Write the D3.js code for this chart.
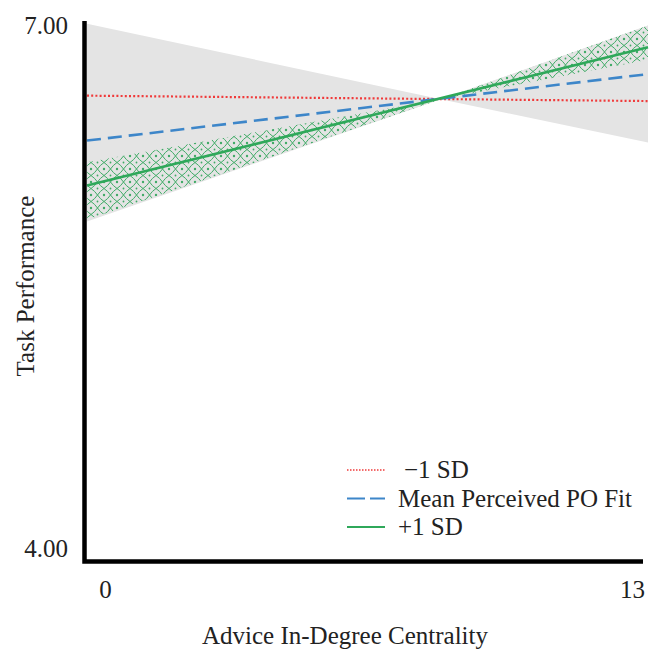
<!DOCTYPE html>
<html>
<head>
<meta charset="utf-8">
<script src="https://cdn.jsdelivr.net/npm/d3@7"></script>
<style>
  body { margin: 0; background: #fff; }
</style>
</head>
<body>
<svg id="chart" width="657" height="652"></svg>
<script>
// x positions where the bands are defined (the crossing point sits at about 8.2)
const bandX = [0, 8.2, 13];
const greyUpper = [6.99, 6.57, 6.98];
const greyLower = [5.89, 6.57, 6.33];
const hatchUpper = [6.22, 6.57, 6.98];
const hatchLower = [5.90, 6.57, 6.79];

// simple slopes, values at x = 0 and x = 13
const lineX = [0, 13];
const lowSD = [6.59, 6.56];
const meanFit = [6.34, 6.71];
const highSD = [6.09, 6.86];

const seriesNames = ["\u22121 SD", "Mean Perceived PO Fit", "+1 SD"];
const xTicks = [0, 13];
const yTicks = [4, 7];

const FONT = "Liberation Serif";
const FS = 25;

const svg = d3.select("#chart");
const x = d3.scaleLinear().domain([0, 13]).range([87, 648]);
const y = d3.scaleLinear().domain([4, 7]).range([561, 22]);

// lattice pattern for the +1 SD band
const T = 13, h = T / 2;
const defs = svg.append("defs");
const pat = defs.append("pattern")
    .attr("id", "lattice")
    .attr("patternUnits", "userSpaceOnUse")
    .attr("width", T).attr("height", T);
pat.append("rect").attr("width", T).attr("height", T).attr("fill", "#e4e4e4");
pat.append("path")
    .attr("d", `M0,${h} Q${h * 0.6},${h * 0.6} ${h},0 Q${h * 1.4},${h * 0.6} ${T},${h} Q${h * 1.4},${h * 1.4} ${h},${T} Q${h * 0.6},${h * 1.4} 0,${h}`)
    .attr("fill", "none").attr("stroke", "#3fab66").attr("stroke-width", 1);
pat.append("circle").attr("cx", h).attr("cy", h).attr("r", 0.9).attr("fill", "#3fab66");
pat.selectAll(".dot").data([[0, 0], [T, 0], [0, T], [T, T]]).enter()
    .append("circle").attr("cx", d => d[0]).attr("cy", d => d[1]).attr("r", 1.2).attr("fill", "#3fab66");

const band = (up, lo) => d3.area()
    .x((d, i) => x(bandX[i]))
    .y0((d, i) => y(lo[i]))
    .y1((d, i) => y(up[i]))(bandX);

svg.append("path").attr("d", band(greyUpper, greyLower)).attr("fill", "#e4e4e4");
svg.append("path").attr("d", band(hatchUpper, hatchLower)).attr("fill", "url(#lattice)");

const line = (vals) => d3.line()
    .x((d, i) => x(lineX[i]))
    .y((d, i) => y(vals[i]))(lineX);

const styles = [
    { color: "#f03a3a", width: 2.2, dash: "2,2.2" },
    { color: "#3d86c9", width: 2.6, dash: "14,7" },
    { color: "#2fa85a", width: 2.6, dash: null }
];
[lowSD, meanFit, highSD].forEach((vals, i) => {
    svg.append("path")
        .attr("d", line(vals))
        .attr("fill", "none")
        .attr("stroke", styles[i].color)
        .attr("stroke-width", styles[i].width)
        .attr("stroke-dasharray", styles[i].dash);
});

// axes: thick black lines, no tick marks
const xAxis = svg.append("g")
    .attr("transform", "translate(0,561)")
    .call(d3.axisBottom(x).tickValues(xTicks).tickSize(0).tickPadding(19));
xAxis.select(".domain").remove();
xAxis.selectAll("text")
    .attr("font-family", FONT).attr("font-size", FS).attr("fill", "#222")
    .attr("dx", d => d === 0 ? 18 : -16);

const yAxis = svg.append("g")
    .attr("transform", "translate(84,0)")
    .call(d3.axisLeft(y).tickValues(yTicks).tickSize(0).tickPadding(16).tickFormat(d3.format(".2f")));
yAxis.select(".domain").remove();
yAxis.selectAll("text")
    .attr("font-family", FONT).attr("font-size", FS).attr("fill", "#222")
    .attr("dy", d => d === 4 ? "-0.18em" : "0.44em");

svg.append("path")
    .attr("d", "M84.5,21 V561.5 H643")
    .attr("fill", "none").attr("stroke", "#000").attr("stroke-width", 4.5);

// axis titles
svg.append("text")
    .attr("x", 345).attr("y", 644)
    .attr("text-anchor", "middle")
    .attr("font-family", FONT).attr("font-size", FS).attr("fill", "#222")
    .text("Advice In-Degree Centrality");

svg.append("text")
    .attr("transform", "translate(34,286) rotate(-90)")
    .attr("text-anchor", "middle")
    .attr("font-family", FONT).attr("font-size", FS).attr("fill", "#222")
    .text("Task Performance");

// legend
const legend = svg.append("g").attr("transform", "translate(347,470)");
seriesNames.forEach((name, i) => {
    const row = legend.append("g").attr("transform", `translate(0,${i * 28.5})`);
    row.append("line")
        .attr("x1", 0).attr("x2", 38)
        .attr("stroke", styles[i].color)
        .attr("stroke-width", i === 0 ? 1.6 : 2)
        .attr("stroke-dasharray", i === 0 ? "1.5,1.5" : (i === 1 ? "18,5" : null));
    row.append("text")
        .attr("x", i === 0 ? 57 : 51).attr("y", 0)
        .attr("dy", "0.33em")
        .attr("font-family", FONT).attr("font-size", FS).attr("fill", "#222")
        .text(name);
});
</script>
</body>
</html>
